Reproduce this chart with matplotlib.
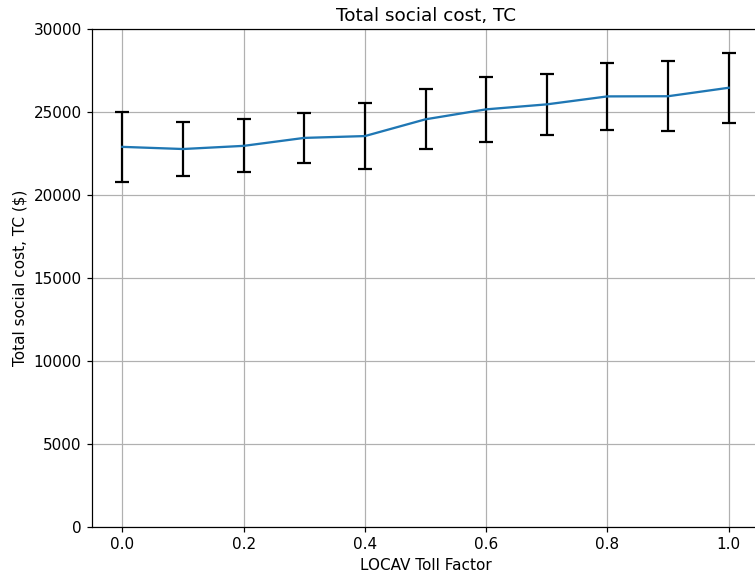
import matplotlib
matplotlib.use("Agg")
import matplotlib.pyplot as plt

toll_factor = [0.0, 0.1, 0.2, 0.3, 0.4, 0.5, 0.6, 0.7, 0.8, 0.9, 1.0]
tc_mean = [22900, 22770, 22960, 23440, 23550, 24560, 25160, 25460, 25940, 25950, 26460]
tc_err = [2110, 1650, 1590, 1490, 1975, 1810, 1970, 1820, 2030, 2100, 2105]

s = 1.1
plt.rcParams.update({
    "font.size": 10 * s,
    "axes.titlesize": 12 * s,
    "axes.linewidth": 0.8 * s,
    "grid.linewidth": 0.8 * s,
    "xtick.major.width": 0.8 * s,
    "ytick.major.width": 0.8 * s,
    "xtick.major.size": 3.5 * s,
    "ytick.major.size": 3.5 * s,
    "lines.linewidth": 1.5 * s,
})

fig = plt.figure(figsize=(7.55, 5.79), dpi=100)
ax = fig.add_axes([92/755, 1-527/579, (759-92)/755, (527-29)/579])
ax.errorbar(toll_factor, tc_mean, yerr=tc_err, color="C0",
            ecolor="black", elinewidth=1.6, capsize=5, capthick=1.6)
ax.set_ylim(0, 30000)
ax.set_xlim(-0.05, 1.05)
ax.grid(True)
ax.set_title("Total social cost, TC")
ax.set_xlabel("LOCAV Toll Factor")
ax.set_ylabel("Total social cost, TC ($)")
fig.savefig("out.png", dpi=100)
